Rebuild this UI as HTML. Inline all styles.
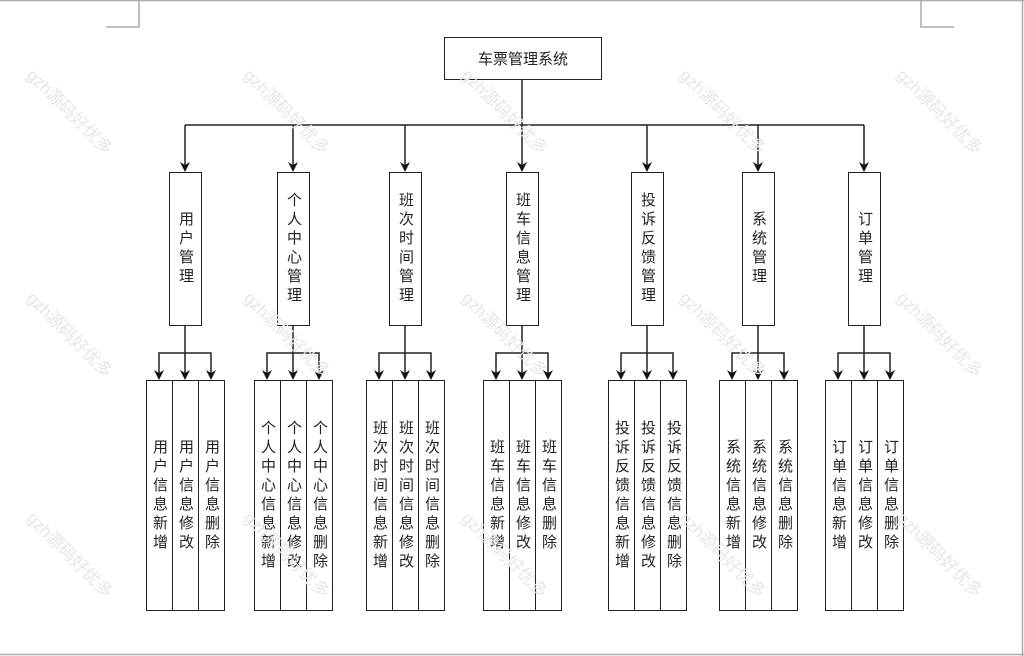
<!DOCTYPE html>
<html><head><meta charset="utf-8">
<style>
html,body{margin:0;padding:0;background:#fff;}
body{width:1024px;height:656px;position:relative;overflow:hidden;font-family:"Liberation Sans","Noto Sans CJK SC",sans-serif;}
.b{position:absolute;box-sizing:border-box;border:1.5px solid #222;background:#fff;display:flex;align-items:center;justify-content:center;}
.v{writing-mode:vertical-rl;text-orientation:upright;font-size:15px;letter-spacing:4px;color:#222;line-height:1;}
.wm{position:absolute;font-size:17px;color:#e6e6e6;transform-origin:0 0;transform:rotate(45deg);white-space:nowrap;z-index:5;}
svg{position:absolute;left:0;top:0;}
</style></head><body>
<svg width="1024" height="656">
<g stroke="#aaa" stroke-width="1.5" fill="none">
<line x1="0" y1="0.5" x2="1024" y2="0.5"/>
<line x1="0" y1="654.5" x2="1024" y2="654.5"/>
<line x1="1022.5" y1="0" x2="1022.5" y2="656"/>
<path d="M139,0 V27 H106"/>
<path d="M921,0 V27 H954"/>
</g>
<g stroke="#222" stroke-width="1.5" fill="none">
<line x1="522" y1="79" x2="522" y2="125"/>
<line x1="185" y1="125" x2="864" y2="125"/>
<path d="M185,125V170 M293,125V170 M405,125V170 M522,125V170 M647,125V170 M758,125V170 M864,125V170"/>
<path d="M185,326V378 M159,378V353H211V378"/>
<path d="M293,326V378 M267,378V353H319V378"/>
<path d="M405,326V378 M379,378V353H431V378"/>
<path d="M522,326V378 M496,378V353H548V378"/>
<path d="M647,326V378 M621,378V353H673V378"/>
<path d="M758,326V378 M732,378V353H784V378"/>
<path d="M864,326V378 M838,378V353H890V378"/>
</g>
<g fill="#111">
<polygon points="180,162 185,172 190,162 185,165"/>
<polygon points="288,162 293,172 298,162 293,165"/>
<polygon points="400,162 405,172 410,162 405,165"/>
<polygon points="517,162 522,172 527,162 522,165"/>
<polygon points="642,162 647,172 652,162 647,165"/>
<polygon points="753,162 758,172 763,162 758,165"/>
<polygon points="859,162 864,172 869,162 864,165"/>

<polygon points="154,370 159,380 164,370 159,373"/><polygon points="180,370 185,380 190,370 185,373"/><polygon points="206,370 211,380 216,370 211,373"/>
<polygon points="262,370 267,380 272,370 267,373"/><polygon points="288,370 293,380 298,370 293,373"/><polygon points="314,370 319,380 324,370 319,373"/>
<polygon points="374,370 379,380 384,370 379,373"/><polygon points="400,370 405,380 410,370 405,373"/><polygon points="426,370 431,380 436,370 431,373"/>
<polygon points="491,370 496,380 501,370 496,373"/><polygon points="517,370 522,380 527,370 522,373"/><polygon points="543,370 548,380 553,370 548,373"/>
<polygon points="616,370 621,380 626,370 621,373"/><polygon points="642,370 647,380 652,370 647,373"/><polygon points="668,370 673,380 678,370 673,373"/>
<polygon points="727,370 732,380 737,370 732,373"/><polygon points="753,370 758,380 763,370 758,373"/><polygon points="779,370 784,380 789,370 784,373"/>
<polygon points="833,370 838,380 843,370 838,373"/><polygon points="859,370 864,380 869,370 864,373"/><polygon points="885,370 890,380 895,370 890,373"/>
</g>
</svg>

<div class="b" style="left:444px;top:37px;width:158px;height:43px;"><span style="font-size:15px;color:#222;">车票管理系统</span></div>

<div class="b" style="left:169px;top:172px;width:33px;height:154px;"><span class="v">用户管理</span></div>
<div class="b" style="left:277px;top:172px;width:33px;height:154px;"><span class="v">个人中心管理</span></div>
<div class="b" style="left:389px;top:172px;width:33px;height:154px;"><span class="v">班次时间管理</span></div>
<div class="b" style="left:506px;top:172px;width:33px;height:154px;"><span class="v">班车信息管理</span></div>
<div class="b" style="left:631px;top:172px;width:33px;height:154px;"><span class="v">投诉反馈管理</span></div>
<div class="b" style="left:742px;top:172px;width:33px;height:154px;"><span class="v">系统管理</span></div>
<div class="b" style="left:848px;top:172px;width:33px;height:154px;"><span class="v">订单管理</span></div>

<div class="b" style="left:146px;top:380px;width:27px;height:231px;"><span class="v">用户信息新增</span></div>
<div class="b" style="left:172px;top:380px;width:27px;height:231px;"><span class="v">用户信息修改</span></div>
<div class="b" style="left:198px;top:380px;width:27px;height:231px;"><span class="v">用户信息删除</span></div>

<div class="b" style="left:254px;top:380px;width:27px;height:231px;"><span class="v">个人中心信息新增</span></div>
<div class="b" style="left:280px;top:380px;width:27px;height:231px;"><span class="v">个人中心信息修改</span></div>
<div class="b" style="left:306px;top:380px;width:27px;height:231px;"><span class="v">个人中心信息删除</span></div>

<div class="b" style="left:366px;top:380px;width:27px;height:231px;"><span class="v">班次时间信息新增</span></div>
<div class="b" style="left:392px;top:380px;width:27px;height:231px;"><span class="v">班次时间信息修改</span></div>
<div class="b" style="left:418px;top:380px;width:27px;height:231px;"><span class="v">班次时间信息删除</span></div>

<div class="b" style="left:483px;top:380px;width:27px;height:231px;"><span class="v">班车信息新增</span></div>
<div class="b" style="left:509px;top:380px;width:27px;height:231px;"><span class="v">班车信息修改</span></div>
<div class="b" style="left:535px;top:380px;width:27px;height:231px;"><span class="v">班车信息删除</span></div>

<div class="b" style="left:608px;top:380px;width:27px;height:231px;"><span class="v">投诉反馈信息新增</span></div>
<div class="b" style="left:634px;top:380px;width:27px;height:231px;"><span class="v">投诉反馈信息修改</span></div>
<div class="b" style="left:660px;top:380px;width:27px;height:231px;"><span class="v">投诉反馈信息删除</span></div>

<div class="b" style="left:719px;top:380px;width:27px;height:231px;"><span class="v">系统信息新增</span></div>
<div class="b" style="left:745px;top:380px;width:27px;height:231px;"><span class="v">系统信息修改</span></div>
<div class="b" style="left:771px;top:380px;width:27px;height:231px;"><span class="v">系统信息删除</span></div>

<div class="b" style="left:825px;top:380px;width:27px;height:231px;"><span class="v">订单信息新增</span></div>
<div class="b" style="left:851px;top:380px;width:27px;height:231px;"><span class="v">订单信息修改</span></div>
<div class="b" style="left:877px;top:380px;width:27px;height:231px;"><span class="v">订单信息删除</span></div>

<div class="wm" style="left:40px;top:62px;">gzh源码好优多</div>
<div class="wm" style="left:257px;top:62px;">gzh源码好优多</div>
<div class="wm" style="left:475px;top:62px;">gzh源码好优多</div>
<div class="wm" style="left:693px;top:62px;">gzh源码好优多</div>
<div class="wm" style="left:910px;top:62px;">gzh源码好优多</div>
<div class="wm" style="left:40px;top:285px;">gzh源码好优多</div>
<div class="wm" style="left:257px;top:285px;">gzh源码好优多</div>
<div class="wm" style="left:475px;top:285px;">gzh源码好优多</div>
<div class="wm" style="left:693px;top:285px;">gzh源码好优多</div>
<div class="wm" style="left:910px;top:285px;">gzh源码好优多</div>
<div class="wm" style="left:40px;top:505px;">gzh源码好优多</div>
<div class="wm" style="left:257px;top:505px;">gzh源码好优多</div>
<div class="wm" style="left:475px;top:505px;">gzh源码好优多</div>
<div class="wm" style="left:693px;top:505px;">gzh源码好优多</div>
<div class="wm" style="left:910px;top:505px;">gzh源码好优多</div>
</body></html>
